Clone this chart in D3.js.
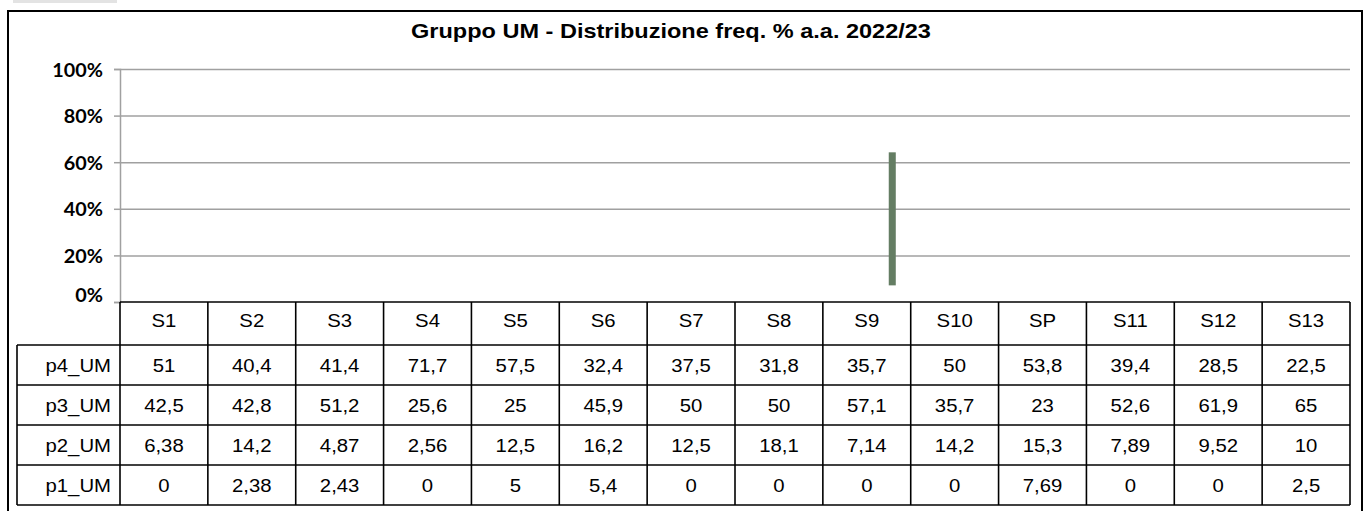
<!DOCTYPE html>
<html>
<head>
<meta charset="utf-8">
<script src="https://cdn.jsdelivr.net/npm/d3@7"></script>
<style>
  body { margin: 0; background: #fff; }
  svg { display: block; }
</style>
</head>
<body>
<svg id="chart" width="1365" height="511"></svg>
<script>
// data
var categories = ["S1", "S2", "S3", "S4", "S5", "S6", "S7", "S8", "S9", "S10", "SP", "S11", "S12", "S13"];
var seriesNames = ["p4_UM", "p3_UM", "p2_UM", "p1_UM"];
var p4_UM = [51, 40.4, 41.4, 71.7, 57.5, 32.4, 37.5, 31.8, 35.7, 50, 53.8, 39.4, 28.5, 22.5];
var p3_UM = [42.5, 42.8, 51.2, 25.6, 25, 45.9, 50, 50, 57.1, 35.7, 23, 52.6, 61.9, 65];
var p2_UM = [6.38, 14.2, 4.87, 2.56, 12.5, 16.2, 12.5, 18.1, 7.14, 14.2, 15.3, 7.89, 9.52, 10];
var p1_UM = [0, 2.38, 2.43, 0, 5, 5.4, 0, 0, 0, 0, 7.69, 0, 0, 2.5];
var yTicks = [0, 20, 40, 60, 80, 100];
var title = "Gruppo UM - Distribuzione freq. % a.a. 2022/23";
// only one segment of the stack shows in the picture
var shownCategory = "S9";
var shownSeries = "p3_UM";

var seriesValues = { p4_UM: p4_UM, p3_UM: p3_UM, p2_UM: p2_UM, p1_UM: p1_UM };

var svg = d3.select("#chart");

var plotLeft = 120, plotRight = 1350, plotTop = 69, plotBottom = 302;
var rowH = 40, headerH = 43, labelLeft = 17;

var x = d3.scaleBand().domain(categories).range([plotLeft, plotRight]);
var y = d3.scaleLinear().domain([0, 100]).range([plotBottom, plotTop]);

function fmt(v) { return String(v).replace(".", ","); }

// text in the picture is wider than it is tall, so stretch it sideways
function stretchedText(sel, tx, ty, sx) {
  return sel.attr("transform", "translate(" + tx + "," + ty + ") scale(" + sx + ",1)");
}

// little grey strip at the very top
svg.append("rect").attr("x", 13).attr("y", 0).attr("width", 104).attr("height", 3).attr("fill", "#e3e3e3");

// outer frame
svg.append("rect")
  .attr("x", 8).attr("y", 11)
  .attr("width", 1354).attr("height", 520)
  .attr("fill", "none").attr("stroke", "#000").attr("stroke-width", 2);

// title
stretchedText(svg.append("text"), 671, 38, 1.12)
  .attr("text-anchor", "middle")
  .attr("font-family", "Liberation Sans, Arial, sans-serif")
  .attr("font-weight", "bold")
  .attr("font-size", 21)
  .text(title);

// gridlines + y axis
var yAxis = svg.append("g")
  .attr("transform", "translate(" + plotLeft + ",0)")
  .call(d3.axisLeft(y).tickValues(yTicks).tickSize(6).tickFormat(function (d) { return d + "%"; }));
yAxis.select(".domain").attr("stroke", "#a0a0a0").attr("stroke-width", 1.5);
yAxis.selectAll(".tick line").attr("stroke", "#a0a0a0").attr("stroke-width", 1.5);
yAxis.selectAll(".tick text").remove();

yAxis.selectAll(".tick").each(function (d) {
  var t = d3.select(this);
  if (d > 0) {
    t.append("line").attr("x1", 0).attr("x2", plotRight - plotLeft)
      .attr("stroke", "#a0a0a0").attr("stroke-width", 1.5);
  }
  stretchedText(t.append("text"), -17, d === 0 ? -1 : 7, 1.1)
    .attr("text-anchor", "end")
    .attr("fill", "#000")
    .attr("font-family", "Lato, sans-serif")
    .attr("font-weight", "bold")
    .attr("font-size", 18)
    .text(d + "%");
});

// stacked data, bottom up p1 -> p4
var rows = categories.map(function (c, i) {
  var r = { cat: c };
  seriesNames.forEach(function (s) { r[s] = seriesValues[s][i]; });
  return r;
});
var stack = d3.stack().keys(seriesNames.slice().reverse())(rows);
var shown = stack.filter(function (s) { return s.key === shownSeries; })[0]
  .filter(function (d) { return d.data.cat === shownCategory; });

svg.append("g").selectAll("rect")
  .data(shown)
  .enter().append("rect")
  .attr("x", function (d) { return x(d.data.cat) + x.bandwidth() * 0.75; })
  .attr("width", x.bandwidth() * 0.08)
  .attr("y", function (d) { return y(d[1]); })
  .attr("height", function (d) { return y(d[0]) - y(d[1]); })
  .attr("fill", "#647d63");

// data table
var tableStretch = 1.13;
var table = svg.append("g")
  .attr("font-family", "Liberation Sans, Arial, sans-serif")
  .attr("font-size", 18)
  .attr("fill", "#000");

var tableTop = plotBottom;
var bodyTop = tableTop + headerH;
var tableBottom = bodyTop + rowH * seriesNames.length;
var lineStyle = function (sel) { return sel.attr("stroke", "#000").attr("stroke-width", 1.6); };

// header cells
table.selectAll(".hdr")
  .data(categories)
  .enter().append("text")
  .attr("class", "hdr")
  .attr("text-anchor", "middle")
  .each(function (d) {
    stretchedText(d3.select(this), x(d) + x.bandwidth() / 2, tableTop + 25, tableStretch);
  })
  .text(function (d) { return d; });

// body rows
seriesNames.forEach(function (s, r) {
  var top = bodyTop + r * rowH;
  stretchedText(table.append("text"), plotLeft - 9, top + 26.5, tableStretch)
    .attr("text-anchor", "end")
    .text(s);
  table.append("g").selectAll("text")
    .data(seriesValues[s])
    .enter().append("text")
    .attr("text-anchor", "middle")
    .each(function (v, i) {
      stretchedText(d3.select(this), x(categories[i]) + x.bandwidth() / 2, top + 26.5, tableStretch);
    })
    .text(fmt);
});

// grid lines of the table
lineStyle(table.append("line").attr("x1", plotLeft).attr("x2", plotRight).attr("y1", tableTop).attr("y2", tableTop));
d3.range(seriesNames.length + 1).forEach(function (r) {
  var yy = bodyTop + r * rowH;
  lineStyle(table.append("line").attr("x1", labelLeft).attr("x2", plotRight).attr("y1", yy).attr("y2", yy));
});
lineStyle(table.append("line").attr("x1", labelLeft).attr("x2", labelLeft).attr("y1", bodyTop).attr("y2", tableBottom));
categories.forEach(function (c) {
  var xx = x(c);
  lineStyle(table.append("line").attr("x1", xx).attr("x2", xx).attr("y1", tableTop).attr("y2", tableBottom));
});
lineStyle(table.append("line").attr("x1", plotRight).attr("x2", plotRight).attr("y1", tableTop).attr("y2", tableBottom));
</script>
</body>
</html>
